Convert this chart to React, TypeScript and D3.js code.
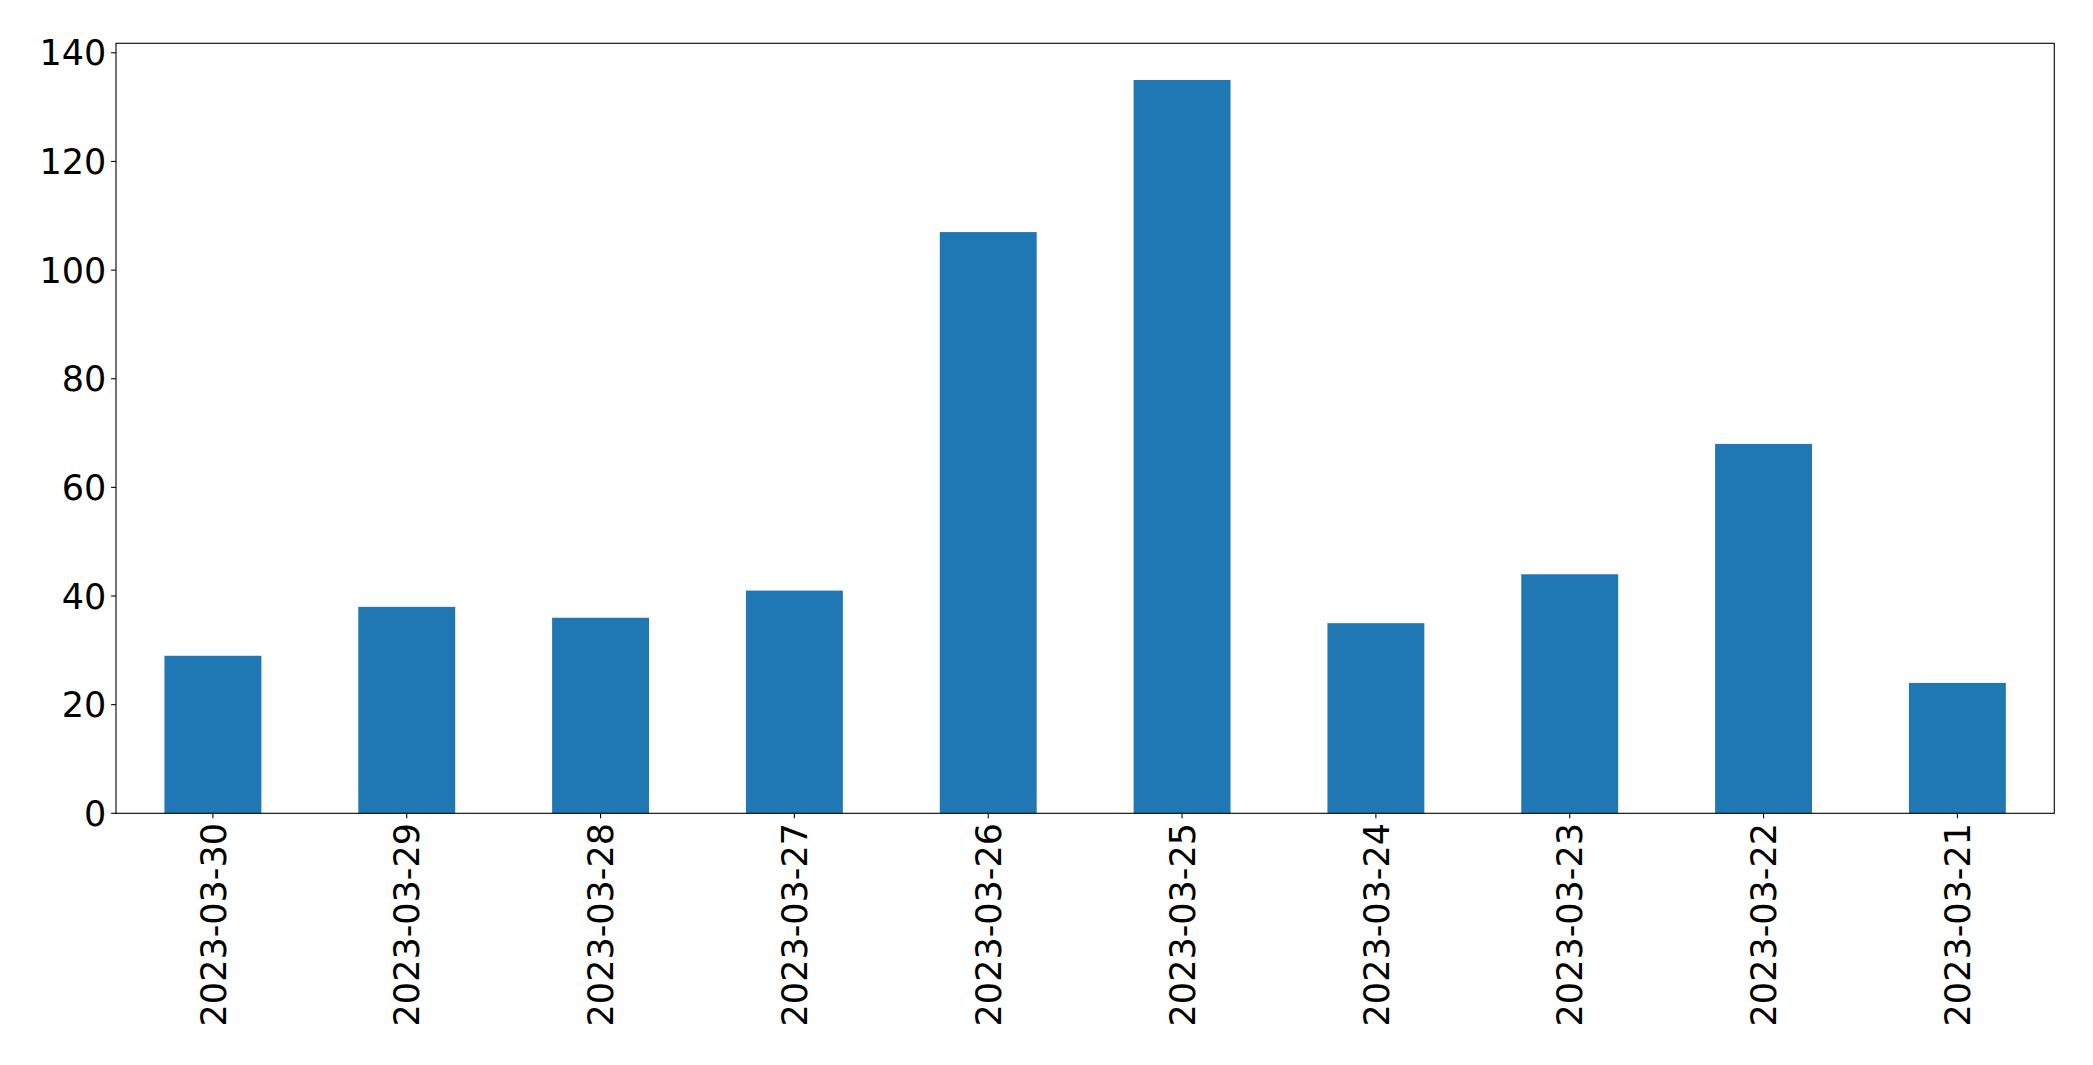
import React from "react";
import * as d3 from "d3";

const categories = ["2023-03-30","2023-03-29","2023-03-28","2023-03-27","2023-03-26","2023-03-25","2023-03-24","2023-03-23","2023-03-22","2023-03-21"];
const values = [29, 38, 36, 41, 107, 135, 35, 44, 68, 24];
const yTicks = [0, 20, 40, 60, 80, 100, 120, 140];

const W = 2093, H = 1065;
const left = 116, right = 2054.3, top = 43.3, bottom = 813.3;
const FONT = "DejaVu Sans, sans-serif";
const FS = 35;

export default function App() {
  const x = d3.scaleLinear().domain([-0.5, categories.length - 0.5]).range([left, right]);
  const y = d3.scaleLinear().domain([0, d3.max(values)! * 1.05]).range([bottom, top]);
  const bw = x(0.25) - x(-0.25);
  return (
    <svg width={W} height={H} style={{ position: "absolute", left: 0, top: 0, background: "#fff" }}>
      {values.map((v, i) => (
        <rect key={i} x={x(i) - bw / 2} y={y(v)} width={bw} height={y(0) - y(v)} fill="#1f77b4" />
      ))}
      <rect x={left} y={top} width={right - left} height={bottom - top} fill="none" stroke="#000" strokeWidth={1.1} />
      {yTicks.map((t) => (
        <g key={t}>
          <line x1={left - 4.9} x2={left} y1={y(t)} y2={y(t)} stroke="#000" strokeWidth={1.1} />
          <text x={left - 9.7} y={y(t)} dy="0.36em" textAnchor="end" fontFamily={FONT} fontSize={FS} fill="#000">{t}</text>
        </g>
      ))}
      {categories.map((c, i) => (
        <g key={c}>
          <line x1={x(i)} x2={x(i)} y1={bottom} y2={bottom + 4.9} stroke="#000" strokeWidth={1.1} />
          <text transform={`translate(${x(i)},${bottom + 9.7}) rotate(-90)`} dy="0.36em" textAnchor="end" fontFamily={FONT} fontSize={FS} fill="#000">{c}</text>
        </g>
      ))}
    </svg>
  );
}
